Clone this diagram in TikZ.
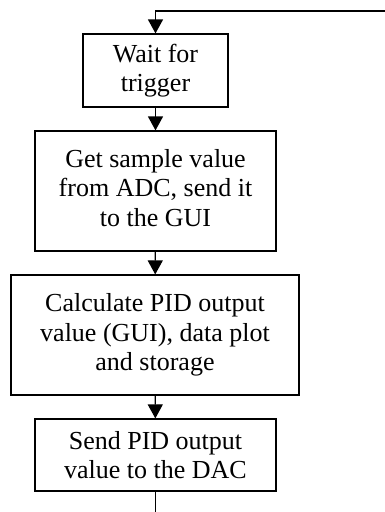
\documentclass[tikz,border=0pt]{standalone}
\usepackage{fontspec}
\setmainfont{Liberation Serif}
\usetikzlibrary{arrows.meta}
\begin{document}
\begin{tikzpicture}[x=1pt,y=-1pt,
  stepbox/.style={draw,line width=1.2pt,align=center,inner sep=0pt,
    font=\fontsize{26}{29.5}\selectfont},
  arr/.style={line width=1.2pt,-{Triangle[width=15pt,length=14pt]}},
  ln/.style={line width=1.2pt}]
\useasboundingbox (0,0) rectangle (385,512);
\node[stepbox,minimum width=145pt,minimum height=73pt] (b1) at (155.5,70.5) {Wait for\\trigger};
\node[stepbox,minimum width=241pt,minimum height=120pt] (b2) at (155.5,191) {\raisebox{10pt}{\begin{tabular}{@{}c@{}}Get sample value\\from ADC, send it\\to the GUI\end{tabular}}};
\node[stepbox,minimum width=288pt,minimum height=120pt] (b3) at (155,335) {Calculate PID output\\value (GUI), data plot\\and storage};
\node[stepbox,minimum width=241pt,minimum height=72pt] (b4) at (155.5,455) {Send PID output\\value to the DAC};
\coordinate (tr) at (386,11);
\coordinate (bot) at (155.5,513);
\draw[arr] (tr) -| (b1.north);
\draw[arr] (b1) -- (b2);
\draw[arr] (b2) -- (b3);
\draw[arr] (b3) -- (b4);
\draw[ln] (b4.south) -- (bot);
\end{tikzpicture}
\end{document}
